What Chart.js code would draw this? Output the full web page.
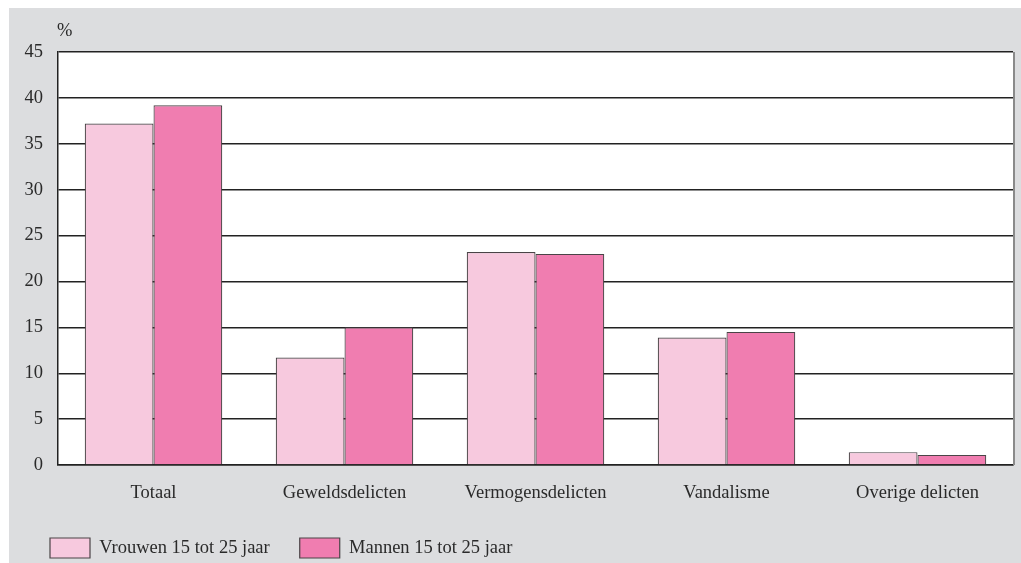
<!DOCTYPE html>
<html>
<head>
<meta charset="utf-8">
<script src="https://cdn.jsdelivr.net/npm/chart.js@4.4.0/dist/chart.umd.min.js"></script>
<style>
  body { margin: 0; background: #fff; overflow: hidden; }
  #wrap { position: absolute; left: 9px; top: 8px; width: 1012px; height: 560px; background: #dcdddf; }
</style>
</head>
<body>
<div id="wrap"><canvas id="chart"></canvas></div>
<script>
const categories = ['Totaal', 'Geweldsdelicten', 'Vermogensdelicten', 'Vandalisme', 'Overige delicten'];
const vrouwen = [37.2, 11.7, 23.2, 13.9, 1.4];
const mannen = [39.2, 15.0, 23.0, 14.5, 1.1];
const seriesNames = ['Vrouwen 15 tot 25 jaar', 'Mannen 15 tot 25 jaar'];
const yMax = 45;
const yStep = 5;
const unitLabel = '%';

const FONT = "'Liberation Serif', 'DejaVu Serif', serif";
const FONT_SIZE = 18.5;

// white plot background, right border line and the % label
const plotDecor = {
    id: 'plotDecor',
    beforeDraw(chart) {
        const {ctx, chartArea: a} = chart;
        ctx.save();
        ctx.fillStyle = '#ffffff';
        ctx.fillRect(a.left, a.top, a.right - a.left, a.bottom - a.top);
        ctx.restore();
    },
    afterDraw(chart) {
        const {ctx, chartArea: a} = chart;
        ctx.save();
        ctx.strokeStyle = '#8a8a8a';
        ctx.lineWidth = 2;
        ctx.beginPath();
        ctx.moveTo(a.right + 1, a.top);
        ctx.lineTo(a.right + 1, a.bottom);
        ctx.stroke();
        ctx.fillStyle = '#2a2a2a';
        ctx.font = FONT_SIZE + 'px ' + FONT;
        ctx.textBaseline = 'middle';
        ctx.fillText(unitLabel, a.left - 1, a.top - 21);
        ctx.restore();
    }
};

new Chart(document.getElementById('chart').getContext('2d'), {
    type: 'bar',
    data: {
        labels: categories,
        datasets: [
            {
                label: seriesNames[0],
                data: vrouwen,
                backgroundColor: '#f7c9de',
                borderColor: '#4a4447',
                borderWidth: 1.2,
                borderSkipped: 'bottom',
                categoryPercentage: 0.72,
                barPercentage: 1.0
            },
            {
                label: seriesNames[1],
                data: mannen,
                backgroundColor: '#f07db0',
                borderColor: '#4a4447',
                borderWidth: 1.2,
                borderSkipped: 'bottom',
                categoryPercentage: 0.72,
                barPercentage: 1.0
            }
        ]
    },
    options: {
        responsive: true,
        maintainAspectRatio: false,
        animation: false,
        layout: { padding: { top: 44, left: 11, right: 8, bottom: 0 } },
        scales: {
            x: {
                grid: { display: false },
                border: { display: true, color: '#222', width: 1.5 },
                ticks: { color: '#2a2a2a', font: { family: FONT, size: FONT_SIZE }, padding: 9 },
                afterFit: scale => { scale.height = 43; }
            },
            y: {
                min: 0,
                max: yMax,
                grid: { color: '#222', lineWidth: 1.4, drawTicks: false },
                border: { display: true, color: '#222', width: 1.5 },
                ticks: { stepSize: yStep, color: '#2a2a2a', font: { family: FONT, size: FONT_SIZE }, padding: 15 },
                afterFit: scale => { scale.width = 38; }
            }
        },
        plugins: {
            tooltip: { enabled: false },
            legend: {
                position: 'bottom',
                align: 'start',
                labels: {
                    color: '#2a2a2a',
                    font: { family: FONT, size: FONT_SIZE },
                    boxWidth: 40,
                    boxHeight: 20,
                    padding: 30
                }
            }
        }
    },
    plugins: [plotDecor]
});
</script>
</body>
</html>
